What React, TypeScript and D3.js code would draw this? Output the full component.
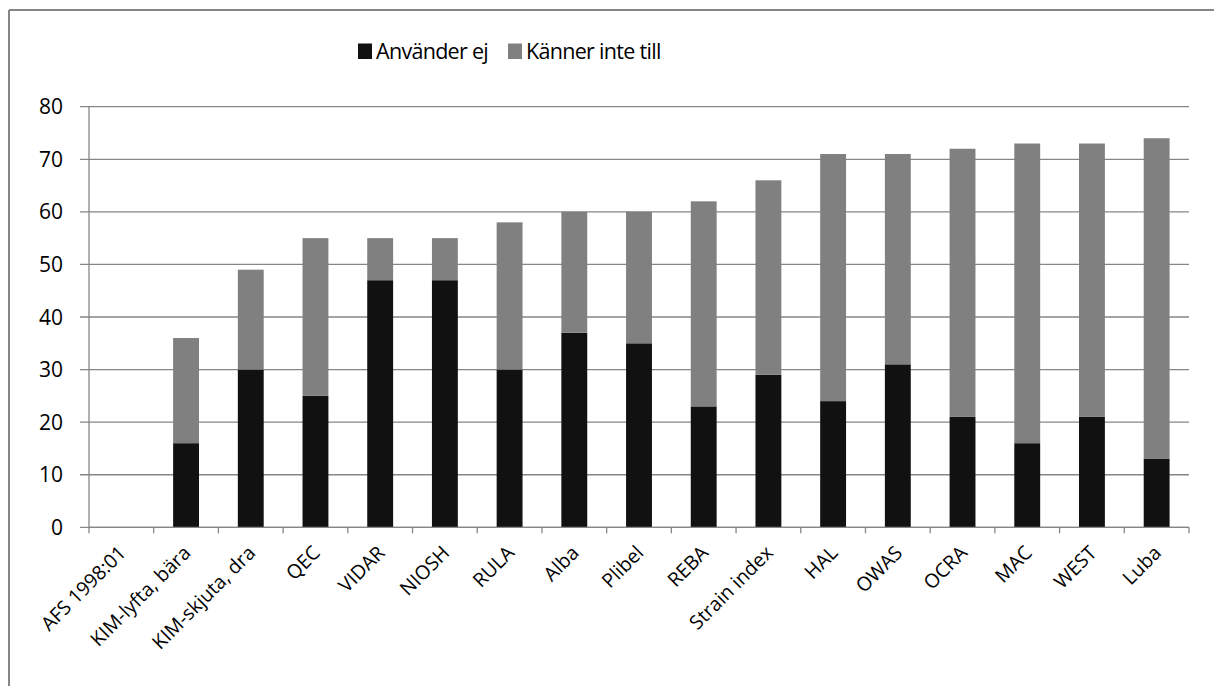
import React from "react";
import * as d3 from "d3";

const categories = [
  "AFS 1998:01", "KIM-lyfta, bära", "KIM-skjuta, dra", "QEC", "VIDAR", "NIOSH",
  "RULA", "Alba", "Plibel", "REBA", "Strain index", "HAL", "OWAS", "OCRA",
  "MAC", "WEST", "Luba",
];
const anvanderEj = [0, 16, 30, 25, 47, 47, 30, 37, 35, 23, 29, 24, 31, 21, 16, 21, 13];
const kannerInteTill = [0, 20, 19, 30, 8, 8, 28, 23, 25, 39, 37, 47, 40, 51, 57, 52, 61];
const yTicks = [0, 10, 20, 30, 40, 50, 60, 70, 80];
const seriesNames = ["Använder ej", "Känner inte till"];
const seriesColors = ["#111111", "#808080"];

const W = 1214;
const H = 686;
const left = 89;
const right = 1189;
const top = 106.7;
const bottom = 527.3;
const FONT = "'Open Sans', 'DejaVu Sans', sans-serif";

export default function App() {
  const x = d3.scaleBand<string>().domain(categories).range([left, right]).paddingInner(0.6).paddingOuter(0.3);
  const band = d3.scaleBand<string>().domain(categories).range([left, right]);
  const y = d3.scaleLinear().domain([0, 80]).range([bottom, top]);

  const rows = categories.map((c, i) => ({ c, a: anvanderEj[i], k: kannerInteTill[i] }));
  const stacked = d3.stack<any>().keys(["a", "k"])(rows as any);

  const gridColor = "#868686";

  return (
    <svg width={W} height={H} style={{ position: "absolute", left: 0, top: 0, background: "#fff" }}>
      <rect x={0} y={0} width={W} height={H} fill="#fff" />
      <line x1={9} y1={10} x2={W + 5} y2={10} stroke={gridColor} strokeWidth={2} />
      <line x1={9} y1={10} x2={9} y2={H + 5} stroke={gridColor} strokeWidth={2} />

      {/* gridlines */}
      {yTicks.map((t) => (
        <g key={t}>
          <line x1={left - 9} x2={right} y1={y(t)} y2={y(t)} stroke={gridColor} strokeWidth={1.3} />
          <text x={63} y={y(t)} dy="0.36em" textAnchor="end" fontFamily={FONT} fontSize={21} fill="#000">
            {t}
          </text>
        </g>
      ))}
      {/* y axis */}
      <line x1={left} x2={left} y1={top} y2={bottom} stroke={gridColor} strokeWidth={1.3} />

      {/* bars */}
      {stacked.map((s, si) => (
        <g key={si} fill={seriesColors[si]}>
          {s.map((d: any, i: number) => {
            const h = y(d[0]) - y(d[1]);
            if (h <= 0) return null;
            return <rect key={i} x={x(categories[i])} y={y(d[1])} width={x.bandwidth()} height={h} />;
          })}
        </g>
      ))}

      {/* x axis */}
      <line x1={left} x2={right} y1={bottom} y2={bottom} stroke={gridColor} strokeWidth={1.3} />
      {categories.map((c, i) => (
        <line key={"t" + i} x1={band(c)!} x2={band(c)!} y1={bottom} y2={bottom + 6} stroke={gridColor} strokeWidth={1.3} />
      ))}
      <line x1={right} x2={right} y1={bottom} y2={bottom + 6} stroke={gridColor} strokeWidth={1.3} />
      {categories.map((c) => {
        const cx = band(c)! + band.bandwidth() / 2 + 1;
        const cy = bottom + 22;
        return (
          <text
            key={c}
            transform={`translate(${cx},${cy}) rotate(-45)`}
            textAnchor="end"
            dy="0.35em"
            fontFamily={FONT}
            fontSize={19.5}
            fill="#000"
          >
            {c}
          </text>
        );
      })}

      {/* legend */}
      {seriesNames.map((n, i) => {
        const lx = i === 0 ? 358 : 508;
        return (
          <g key={n}>
            <rect x={lx} y={43.5} width={14} height={15.5} fill={seriesColors[i]} />
            <text x={lx + 18} y={51.5} dy="0.36em" fontFamily={FONT} fontSize={21.5} letterSpacing={-0.7} fill="#000">
              {n}
            </text>
          </g>
        );
      })}
    </svg>
  );
}
